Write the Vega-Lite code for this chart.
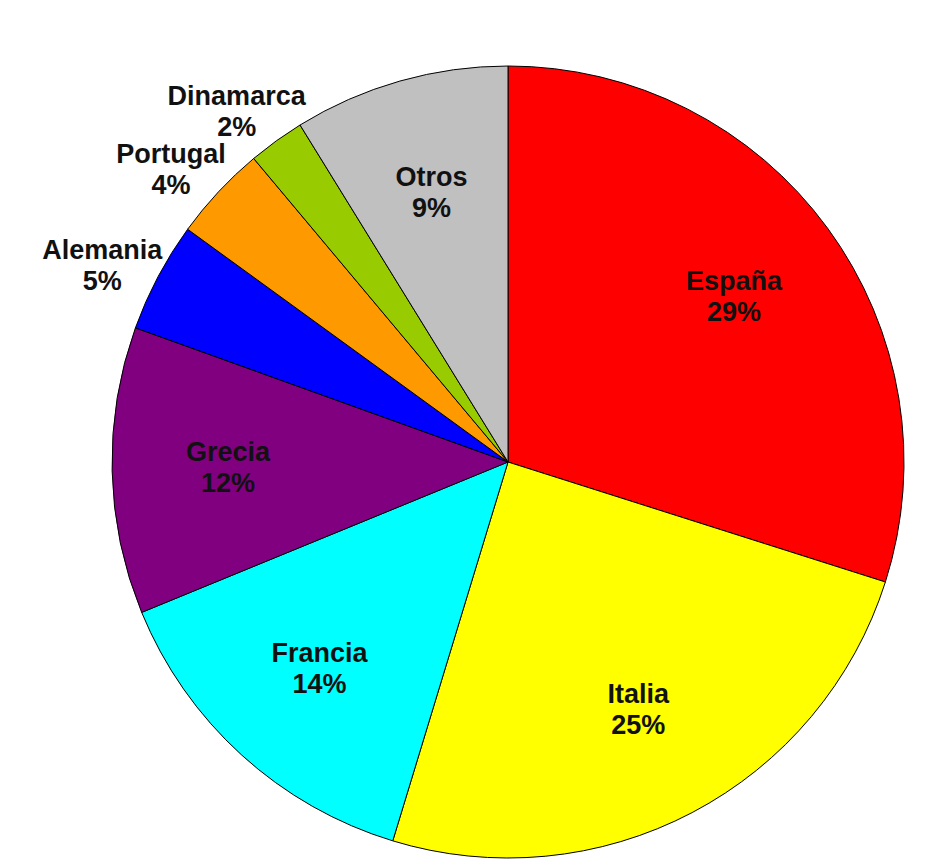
{
  "$schema": "https://vega.github.io/schema/vega-lite/v6.json",
  "width": 800,
  "height": 800,
  "autosize": {"type": "none"},
  "padding": {"left": 108, "top": 62, "right": 17, "bottom": 3},
  "background": "white",
  "config": {"view": {"stroke": null}},
  "data": {
    "values": [
      {"order": 1, "country": "España", "share": 29.9, "label": ["España", "29%"]},
      {"order": 2, "country": "Italia", "share": 24.8, "label": ["Italia", "25%"]},
      {"order": 3, "country": "Francia", "share": 14.1, "label": ["Francia", "14%"]},
      {"order": 4, "country": "Grecia", "share": 11.7, "label": ["Grecia", "12%"]},
      {"order": 5, "country": "Alemania", "share": 4.5, "label": ["Alemania", "5%"]},
      {"order": 6, "country": "Portugal", "share": 3.9, "label": ["Portugal", "4%"]},
      {"order": 7, "country": "Dinamarca", "share": 2.3, "label": ["Dinamarca", "2%"]},
      {"order": 8, "country": "Otros", "share": 8.8, "label": ["Otros", "9%"]}
    ]
  },
  "encoding": {
    "theta": {"field": "share", "type": "quantitative", "stack": true},
    "order": {"field": "order", "type": "quantitative", "sort": "ascending"}
  },
  "layer": [
    {
      "mark": {"type": "arc", "radius": 396, "stroke": "#000000", "strokeWidth": 1},
      "encoding": {
        "color": {
          "field": "country",
          "type": "nominal",
          "legend": null,
          "scale": {
            "domain": ["España", "Italia", "Francia", "Grecia", "Alemania", "Portugal", "Dinamarca", "Otros"],
            "range": ["#FF0000", "#FFFF00", "#00FFFF", "#800080", "#0000FF", "#FF9900", "#99CC00", "#C0C0C0"]
          }
        }
      }
    },
    {
      "mark": {"type": "text", "radius": 280, "dy": -15, "font": "Liberation Sans", "fontSize": 27, "fontWeight": "bold", "lineHeight": 31, "align": "center", "baseline": "middle", "color": "#111111"},
      "encoding": {
        "text": {"condition": {"test": "datum.share >= 6", "field": "label"}, "value": ""}
      }
    },
    {
      "mark": {"type": "text", "radius": 450, "dx": -8, "font": "Liberation Sans", "fontSize": 27, "fontWeight": "bold", "lineHeight": 31, "align": "center", "baseline": "middle", "color": "#111111"},
      "encoding": {
        "text": {"condition": {"test": "datum.share < 6", "field": "label"}, "value": ""}
      }
    }
  ]
}
